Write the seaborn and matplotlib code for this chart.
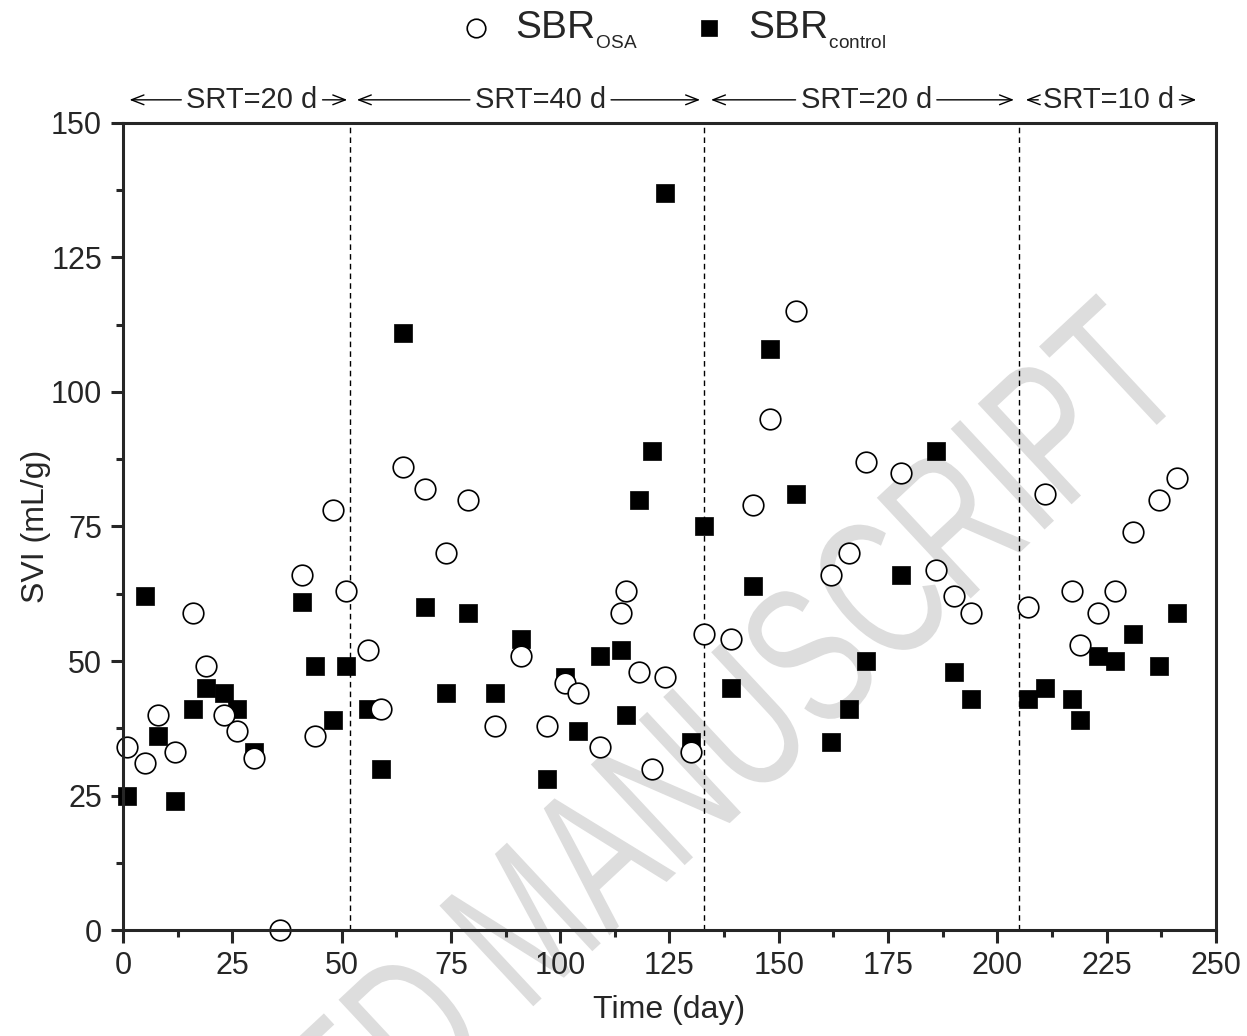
import numpy as np
import pandas as pd
import matplotlib
matplotlib.use("Agg")
import matplotlib.pyplot as plt
import seaborn as sns
from matplotlib.textpath import TextPath
from matplotlib.patches import PathPatch
from matplotlib.font_manager import FontProperties
from matplotlib.transforms import Affine2D

# SVI data
day_osa = [1, 5, 8, 12, 16, 19, 23, 26, 30, 36, 41, 44, 48, 51, 56, 59, 64, 69, 74, 79,
           85, 91, 97, 101, 104, 109, 114, 115, 118, 121, 124, 130, 133, 139, 144, 148,
           154, 162, 166, 170, 178, 186, 190, 194, 207, 211, 217, 219, 223, 227, 231,
           237, 241]
svi_osa = [34, 31, 40, 33, 59, 49, 40, 37, 32, 0, 66, 36, 78, 63, 52, 41, 86, 82, 70, 80,
           38, 51, 38, 46, 44, 34, 59, 63, 48, 30, 47, 33, 55, 54, 79, 95,
           115, 66, 70, 87, 85, 67, 62, 59, 60, 81, 63, 53, 59, 63, 74,
           80, 84]

day_control = [1, 5, 8, 12, 16, 19, 23, 26, 30, 41, 44, 48, 51, 56, 59, 64, 69, 74, 79,
               85, 91, 97, 101, 104, 109, 114, 115, 118, 121, 124, 130, 133, 139, 144,
               148, 154, 162, 166, 170, 178, 186, 190, 194, 207, 211, 217, 219, 223,
               227, 231, 237, 241]
svi_control = [25, 62, 36, 24, 41, 45, 44, 41, 33, 61, 49, 39, 49, 41, 30, 111, 60, 44, 59,
               44, 54, 28, 47, 37, 51, 52, 40, 80, 89, 137, 35, 75, 45, 64,
               108, 81, 35, 41, 50, 66, 89, 48, 43, 43, 45, 43, 39, 51,
               50, 55, 49, 59]

# SRT phases
phase_bounds = [52, 133, 205]
phase_labels = ["SRT=20 d", "SRT=40 d", "SRT=20 d", "SRT=10 d"]
phase_arrows = [(1.5, 51.3), (53.5, 132), (134.5, 203.8), (206.5, 245.5)]
phase_text_x = [29.5, 95.5, 170, 225.5]

df_osa = pd.DataFrame({"day": day_osa, "svi": svi_osa})
df_control = pd.DataFrame({"day": day_control, "svi": svi_control})

sns.set_style("ticks")
plt.rcParams["font.family"] = ["Liberation Sans", "DejaVu Sans"]
plt.rcParams["mathtext.fontset"] = "custom"
plt.rcParams["mathtext.rm"] = "Liberation Sans"

fig = plt.figure(figsize=(12.47, 10.36), dpi=100)
ax = fig.add_axes([0.0986, 0.1023, 0.8765, 0.7790])
ax.set_facecolor("none")

# watermark: narrowed text outline, placed in pixel coordinates behind the plot
fp = FontProperties(family="Liberation Sans")
wm_path = TextPath((0, 0), "ACCEPTED MANUSCRIPT", size=200, prop=fp)
m_off = (TextPath((0, 0), "ACCEPTED M", size=200, prop=fp).get_extents().x1
         - TextPath((0, 0), "M", size=200, prop=fp).get_extents().x1)
wm_tr = Affine2D().translate(-m_off, 0).scale(0.69, 1).rotate_deg(43).translate(525, 22)
fig.add_artist(PathPatch(wm_path, transform=wm_tr, facecolor="#dddddd",
                         edgecolor="none", zorder=-1))

sns.scatterplot(data=df_control, x="day", y="svi", ax=ax, marker="s", s=150,
                color="black", edgecolor="black", linewidth=0.5,
                label=r"SBR$_{_\mathrm{control}}$", clip_on=False, zorder=3)
sns.scatterplot(data=df_osa, x="day", y="svi", ax=ax, marker="o", s=220,
                facecolor="white", edgecolor="black", linewidth=1.2,
                label=r"SBR$_{_\mathrm{OSA}}$", clip_on=False, zorder=4)

for b in phase_bounds:
    ax.axvline(b, color="black", lw=1, ls=(0, (4, 3)), zorder=1)

ax.set_xlim(0, 250)
ax.set_ylim(0, 150)

# SRT labels with arrows running out to the phase edges
y_srt = 154.3
fig.canvas.draw()
inv = ax.transData.inverted()
for (x0, x1), xt, lab in zip(phase_arrows, phase_text_x, phase_labels):
    t = ax.text(xt, y_srt, lab, ha="center", va="center", fontsize=21)
    bb = t.get_window_extent(renderer=fig.canvas.get_renderer())
    left = inv.transform((bb.x0 - 5, 0))[0]
    right = inv.transform((bb.x1 + 5, 0))[0]
    for a, b in [(left, x0), (right, x1)]:
        ax.annotate("", xy=(b, y_srt), xytext=(a, y_srt),
                    arrowprops=dict(arrowstyle="->,head_length=0.9,head_width=0.35",
                                    lw=1, color="black", shrinkA=0, shrinkB=0),
                    annotation_clip=False)

ax.set_xticks(np.arange(0, 251, 25))
ax.set_yticks(np.arange(0, 151, 25))
ax.set_xticks(np.arange(12.5, 250, 25), minor=True)
ax.set_yticks(np.arange(12.5, 150, 25), minor=True)
ax.tick_params(axis="both", which="major", direction="out", length=9, width=2.2,
               labelsize=22, pad=6)
ax.tick_params(axis="both", which="minor", direction="out", length=5, width=2.2)
for sp in ax.spines.values():
    sp.set_linewidth(2.2)
    sp.set_visible(True)
    sp.set_zorder(5)

ax.set_xlabel("Time (day)", fontsize=23, labelpad=10)
ax.set_ylabel("SVI (mL/g)", fontsize=23, labelpad=0)

handles, labels = ax.get_legend_handles_labels()
leg = ax.legend(handles[::-1], labels[::-1], loc="center", ncol=2,
                bbox_to_anchor=(0.5, 1.115), frameon=False, fontsize=28,
                handlelength=1.2, handletextpad=0.4, columnspacing=1.25,
                markerscale=0.9)

fig.savefig("out.png", dpi=100)
